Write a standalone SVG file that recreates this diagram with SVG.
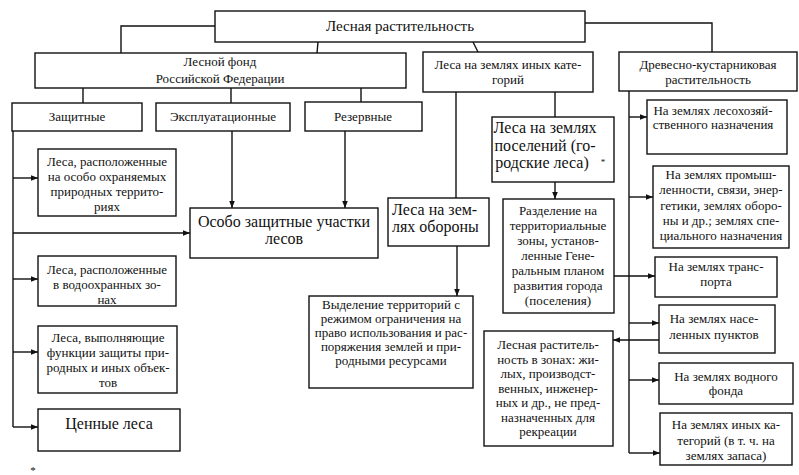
<svg xmlns="http://www.w3.org/2000/svg" width="799" height="475" viewBox="0 0 799 475">
<style>
.box{fill:#fff;stroke:#111;stroke-width:1.4}
.ln{fill:none;stroke:#111;stroke-width:1.4}
.b{font-size:16px}
.m{font-size:15px}
.s{text-anchor:start}
</style>
<defs>
<marker id="ah" viewBox="0 0 10 10" refX="10" refY="5" markerWidth="7" markerHeight="7" orient="auto" markerUnits="userSpaceOnUse"><path d="M0,1 L10,5 L0,9 z" fill="#111"/></marker>
</defs>
<rect width="799" height="475" fill="#fff"/>
<g id="connectors">
<polyline class="ln" points="215,26 121,26 121,53"/>
<line class="ln" x1="318" y1="42" x2="317" y2="53"/>
<line class="ln" x1="473" y1="42" x2="478" y2="52"/>
<polyline class="ln" points="585,23 712,23 712,52"/>
<line class="ln" x1="83" y1="88" x2="83" y2="103"/>
<line class="ln" x1="231" y1="88" x2="231" y2="103"/>
<line class="ln" x1="361" y1="88" x2="361" y2="102"/>
<line class="ln" x1="13" y1="131" x2="13" y2="427"/>
<line class="ln" x1="13" y1="178" x2="38" y2="178" marker-end="url(#ah)"/>
<line class="ln" x1="13" y1="233" x2="190" y2="233" marker-end="url(#ah)"/>
<line class="ln" x1="13" y1="279" x2="38" y2="279" marker-end="url(#ah)"/>
<line class="ln" x1="13" y1="352" x2="38" y2="352" marker-end="url(#ah)"/>
<line class="ln" x1="13" y1="427" x2="38" y2="427" marker-end="url(#ah)"/>
<line class="ln" x1="232" y1="131" x2="232" y2="208" marker-end="url(#ah)"/>
<line class="ln" x1="345" y1="131" x2="345" y2="208" marker-end="url(#ah)"/>
<line class="ln" x1="456" y1="92" x2="456" y2="198"/>
<line class="ln" x1="457" y1="246" x2="457" y2="296" marker-end="url(#ah)"/>
<line class="ln" x1="555" y1="92" x2="555" y2="117"/>
<line class="ln" x1="555" y1="182" x2="555" y2="199" marker-end="url(#ah)"/>
<line class="ln" x1="614" y1="276" x2="655" y2="276" marker-end="url(#ah)"/>
<line class="ln" x1="629" y1="91" x2="629" y2="453"/>
<line class="ln" x1="629" y1="117" x2="647" y2="117" marker-end="url(#ah)"/>
<line class="ln" x1="629" y1="197" x2="653" y2="197" marker-end="url(#ah)"/>
<line class="ln" x1="629" y1="323" x2="659" y2="323" marker-end="url(#ah)"/>
<line class="ln" x1="629" y1="380" x2="659" y2="380" marker-end="url(#ah)"/>
<line class="ln" x1="629" y1="453" x2="660" y2="453" marker-end="url(#ah)"/>
<line class="ln" x1="659" y1="340" x2="613" y2="340" marker-end="url(#ah)"/>
</g>
<g font-family="Liberation Serif, DejaVu Serif, serif" font-size="13" fill="#111" text-anchor="middle">
<g id="n-root"><rect class="box" x="215" y="11" width="370" height="31"/><text class="m" x="400" y="31">Лесная растительность</text></g>
<g id="n-fond"><rect class="box" x="35" y="53" width="371" height="35"/><text x="220" y="66">Лесной фонд</text><text x="220" y="83">Российской Федерации</text></g>
<g id="n-inye"><rect class="box" x="423" y="52" width="170" height="40"/><text x="508" y="69">Леса на землях иных кате-</text><text x="508" y="84">горий</text></g>
<g id="n-drev"><rect class="box" x="619" y="52" width="178" height="39"/><text x="708" y="69">Древесно-кустарниковая</text><text x="708" y="84">растительность</text></g>
<g id="n-zasch"><rect class="box" x="12" y="103" width="130" height="28"/><text x="77" y="121">Защитные</text></g>
<g id="n-expl"><rect class="box" x="156" y="103" width="134" height="28"/><text x="223" y="121">Эксплуатационные</text></g>
<g id="n-rez"><rect class="box" x="305" y="102" width="117" height="29"/><text x="363" y="121">Резервные</text></g>
<g id="n-oopt"><rect class="box" x="38" y="149" width="138" height="67"/><text x="107" y="166">Леса, расположенные</text><text x="107" y="181">на особо охраняемых</text><text x="107" y="196">природных террито-</text><text x="107" y="211">риях</text></g>
<g id="n-osobo"><rect class="box" x="190" y="208" width="188" height="50"/><text class="b" x="284" y="227">Особо защитные участки</text><text class="b" x="284" y="244">лесов</text></g>
<g id="n-vodo"><rect class="box" x="38" y="256" width="138" height="50"/><text x="107" y="274">Леса, расположенные</text><text x="107" y="289">в водоохранных зо-</text><text x="107" y="304">нах</text></g>
<g id="n-func"><rect class="box" x="38" y="326" width="139" height="67"/><text x="108" y="342">Леса, выполняющие</text><text x="108" y="357">функции защиты при-</text><text x="108" y="372">родных и иных объек-</text><text x="108" y="387">тов</text></g>
<g id="n-cennye"><rect class="box" x="38" y="409" width="142" height="42"/><text class="b" x="109" y="429">Ценные леса</text></g>
<g id="n-oborona"><rect class="box" x="388" y="198" width="101" height="48"/><text class="b s" x="392" y="215">Леса на зем-</text><text class="b s" x="392" y="232">лях обороны</text></g>
<g id="n-vydel"><rect class="box" x="309" y="296" width="164" height="92"/><text x="391" y="309">Выделение территорий с</text><text x="391" y="323">режимом ограничения на</text><text x="391" y="337">право использования и рас-</text><text x="391" y="351">поряжения землей и при-</text><text x="391" y="365">родными ресурсами</text></g>
<g id="n-posel"><rect class="box" x="492" y="117" width="122" height="65"/><text class="b" x="545" y="133">Леса на землях</text><text class="b" x="545" y="151">поселений (го-</text><text class="b" x="542" y="168">родские леса)</text><text x="603" y="165" font-size="9">*</text></g>
<g id="n-razdel"><rect class="box" x="503" y="199" width="111" height="114"/><text x="558" y="215">Разделение на</text><text x="558" y="230">территориальные</text><text x="558" y="245">зоны, установ-</text><text x="558" y="260">ленные Гене-</text><text x="558" y="275">ральным планом</text><text x="558" y="290">развития города</text><text x="558" y="305">(поселения)</text></g>
<g id="n-zony"><rect class="box" x="484" y="331" width="129" height="115"/><text x="548" y="349">Лесная раститель-</text><text x="548" y="363.5">ность в зонах: жи-</text><text x="548" y="378">лых, производст-</text><text x="548" y="392.5">венных, инженер-</text><text x="548" y="407">ных и др., не пред-</text><text x="548" y="421.5">назначенных для</text><text x="548" y="436">рекреации</text></g>
<g id="n-lesohoz"><rect class="box" x="647" y="100" width="140" height="54"/><text x="713" y="115">На землях лесохозяй-</text><text x="713" y="129">ственного назначения</text></g>
<g id="n-prom"><rect class="box" x="653" y="166" width="136" height="82"/><text x="721" y="179">На землях промыш-</text><text x="721" y="194">ленности, связи, энер-</text><text x="721" y="210">гетики, землях оборо-</text><text x="721" y="225">ны и др.; землях спе-</text><text x="721" y="240">циального назначения</text></g>
<g id="n-transp"><rect class="box" x="655" y="257" width="122" height="40"/><text x="716" y="271">На землях транс-</text><text x="716" y="286">порта</text></g>
<g id="n-naspunkt"><rect class="box" x="659" y="305" width="116" height="48"/><text x="714" y="323">На землях насе-</text><text x="714" y="339">ленных пунктов</text></g>
<g id="n-vodfond"><rect class="box" x="659" y="363" width="134" height="41"/><text x="726" y="381">На землях водного</text><text x="726" y="395">фонда</text></g>
<g id="n-inyekat"><rect class="box" x="660" y="413" width="132" height="52"/><text x="726" y="429">На землях иных ка-</text><text x="726" y="445">тегорий (в т. ч. на</text><text x="726" y="460">землях запаса)</text></g>
<text x="33" y="474" font-size="11">*</text>
</g>
</svg>
